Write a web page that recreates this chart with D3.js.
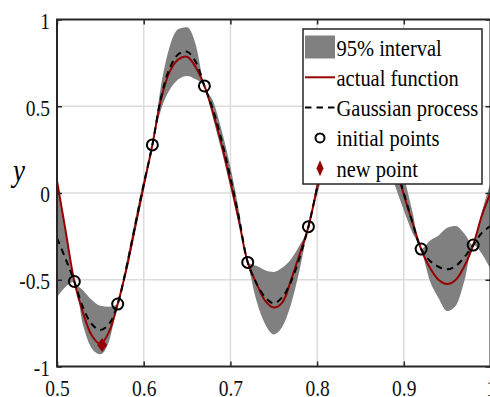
<!DOCTYPE html>
<html>
<head>
<meta charset="utf-8">
<script src="https://cdn.jsdelivr.net/npm/d3@7"></script>
</head>
<body style="margin:0">
<div class="chart"></div>
<script>
'use strict'
// sample grid and series
const xs = [0.50, 0.51, 0.52, 0.53, 0.54, 0.55, 0.56, 0.57, 0.58, 0.59,
  0.60, 0.61, 0.62, 0.63, 0.64, 0.65, 0.66, 0.67, 0.68, 0.69,
  0.70, 0.71, 0.72, 0.73, 0.74, 0.75, 0.76, 0.77, 0.78, 0.79,
  0.80, 0.81, 0.82, 0.83, 0.84, 0.85, 0.86, 0.87, 0.88, 0.89,
  0.90, 0.91, 0.92, 0.93, 0.94, 0.95, 0.96, 0.97, 0.98, 0.99, 1.00]
const actual = [0.07, -0.22, -0.51, -0.69, -0.82, -0.87, -0.80, -0.64, -0.44, -0.20,
  0.04, 0.277, 0.54, 0.70, 0.77, 0.785, 0.725, 0.617, 0.46, 0.275,
  0.065, -0.165, -0.40, -0.52, -0.62, -0.66, -0.63, -0.50, -0.35, -0.194,
  0.03, 0.25, 0.42, 0.54, 0.61, 0.62, 0.58, 0.48, 0.34, 0.17,
  -0.01, -0.17, -0.323, -0.43, -0.50, -0.525, -0.50, -0.42, -0.30, -0.13, 0.0]
const gpMean = [-0.26, -0.38, -0.51, -0.66, -0.755, -0.79, -0.755, -0.64, -0.43, -0.19,
  0.05, 0.277, 0.55, 0.72, 0.80, 0.815, 0.755, 0.617, 0.48, 0.30,
  0.09, -0.145, -0.40, -0.52, -0.60, -0.635, -0.60, -0.51, -0.37, -0.194,
  0.03, 0.24, 0.41, 0.53, 0.60, 0.62, 0.58, 0.48, 0.34, 0.17,
  0.0, -0.17, -0.323, -0.39, -0.425, -0.44, -0.42, -0.37, -0.30, -0.23, -0.19]
// half width of the 95% interval
const gpHalf = [0.34, 0.16, 0, 0.10, 0.14, 0.14, 0.10, 0, 0.03, 0.035,
  0.03, 0, 0.07, 0.125, 0.145, 0.14, 0.10, 0, 0.05, 0.06,
  0.06, 0.04, 0, 0.10, 0.155, 0.18, 0.17, 0.13, 0.07, 0,
  0.04, 0.08, 0.12, 0.15, 0.17, 0.18, 0.18, 0.17, 0.15, 0.13,
  0.10, 0.06, 0, 0.115, 0.18, 0.24, 0.23, 0.135, 0, 0.12, 0.25]
const initialX = [0.52, 0.57, 0.61, 0.67, 0.72, 0.79, 0.92, 0.98]
const initialY = [-0.51, -0.64, 0.277, 0.617, -0.40, -0.194, -0.323, -0.30]
const newX = [0.552]
const newY = [-0.876]
const xTicks = [0.5, 0.6, 0.7, 0.8, 0.9, 1]
const yTicks = [-1, -0.5, 0, 0.5, 1]
const legendLabels = ['95% interval', 'actual function', 'Gaussian process', 'initial points', 'new point']

const width = 490
const height = 397
const axisColor = '#262626'
const red = '#960000'
const band = '#808080'
const serif = '"Liberation Serif"'
const stretch = 1.15 // text in the picture is a bit taller than wide

const x = d3.scaleLinear().domain([0.5, 1]).range([57, 490.5])
const y = d3.scaleLinear().domain([-1, 1]).range([366.5, 19.5])

const fmt = function (d) { return d3.format('~g')(d).replace('\u2212', '-') }

const svg = d3.select('.chart').append('svg')
  .attr('width', width)
  .attr('height', height)
  .style('font-family', serif)

svg.append('defs').append('clipPath').attr('id', 'plot')
  .append('rect')
  .attr('x', x(0.5)).attr('y', y(1))
  .attr('width', x(1) - x(0.5)).attr('height', y(-1) - y(1))

// grid
const grid = svg.append('g').attr('stroke', '#dcdcdc').attr('stroke-width', 1.5)
grid.selectAll('.vx').data(xTicks.slice(1, -1)).enter().append('line')
  .attr('x1', function (d) { return x(d) }).attr('x2', function (d) { return x(d) })
  .attr('y1', y(1)).attr('y2', y(-1))
grid.selectAll('.hy').data(yTicks.slice(1, -1)).enter().append('line')
  .attr('y1', function (d) { return y(d) }).attr('y2', function (d) { return y(d) })
  .attr('x1', x(0.5)).attr('x2', x(1))

const plot = svg.append('g').attr('clip-path', 'url(#plot)')
const idx = d3.range(xs.length)

const area = d3.area()
  .x(function (i) { return x(xs[i]) })
  .y0(function (i) { return y(gpMean[i] - gpHalf[i]) })
  .y1(function (i) { return y(gpMean[i] + gpHalf[i]) })
  .curve(d3.curveMonotoneX)

plot.append('path').datum(idx)
  .attr('d', area)
  .attr('fill', band)

const lineOf = function (series) {
  return d3.line()
    .x(function (i) { return x(xs[i]) })
    .y(function (i) { return y(series[i]) })
    .curve(d3.curveCatmullRom.alpha(0.5))
}

plot.append('path').datum(idx)
  .attr('d', lineOf(actual))
  .attr('fill', 'none')
  .attr('stroke', red)
  .attr('stroke-width', 2)

plot.append('path').datum(idx)
  .attr('d', lineOf(gpMean))
  .attr('fill', 'none')
  .attr('stroke', '#000')
  .attr('stroke-width', 2)
  .attr('stroke-dasharray', '6.5,5')

plot.selectAll('.init').data(initialX).enter().append('circle')
  .attr('cx', function (d) { return x(d) })
  .attr('cy', function (d, i) { return y(initialY[i]) })
  .attr('r', 5.5)
  .attr('fill', 'none')
  .attr('stroke', '#000')
  .attr('stroke-width', 2)

const diamond = function (w, h) {
  return 'M0,' + (-h / 2) + 'L' + (w / 2) + ',0L0,' + (h / 2) + 'L' + (-w / 2) + ',0Z'
}

plot.selectAll('.new').data(newX).enter().append('path')
  .attr('transform', function (d, i) { return 'translate(' + x(d) + ',' + y(newY[i]) + ')' })
  .attr('d', diamond(10, 14))
  .attr('fill', red)

// axes: ticks point inward on all four sides
const styleAxis = function (g) {
  g.attr('font-family', null).attr('font-size', null)
  g.select('.domain').remove()
  g.selectAll('line').attr('stroke', axisColor).attr('stroke-width', 1.5)
  g.selectAll('text')
    .attr('fill', '#111')
    .style('font-family', serif)
    .style('font-size', '19.5px')
    .attr('transform', 'scale(1,' + stretch + ')')
}

svg.append('g').attr('transform', 'translate(0,' + y(-1) + ')')
  .call(d3.axisBottom(x).tickValues(xTicks).tickSize(-5).tickPadding(12).tickFormat(fmt))
  .call(styleAxis)

svg.append('g').attr('transform', 'translate(0,' + y(1) + ')')
  .call(d3.axisTop(x).tickValues(xTicks).tickSize(-5).tickFormat(''))
  .call(styleAxis)

svg.append('g').attr('transform', 'translate(' + x(0.5) + ',0)')
  .call(d3.axisLeft(y).tickValues(yTicks).tickSize(-5).tickPadding(7).tickFormat(fmt))
  .call(styleAxis)
  .call(function (g) { g.selectAll('text').attr('y', 1.5) })

svg.append('g').attr('transform', 'translate(' + x(1) + ',0)')
  .call(d3.axisRight(y).tickValues(yTicks).tickSize(-5).tickFormat(''))
  .call(styleAxis)

svg.append('rect')
  .attr('x', x(0.5)).attr('y', y(1))
  .attr('width', x(1) - x(0.5)).attr('height', y(-1) - y(1))
  .attr('fill', 'none')
  .attr('stroke', axisColor)
  .attr('stroke-width', 2)

svg.append('text')
  .attr('transform', 'translate(19,181) scale(1,' + stretch + ')')
  .attr('text-anchor', 'middle')
  .style('font-family', serif)
  .style('font-style', 'italic')
  .style('font-size', '27px')
  .text('y')

// legend
const legend = svg.append('g').attr('transform', 'translate(303,29)')
legend.append('rect')
  .attr('width', 179).attr('height', 155)
  .attr('fill', '#fff')
  .attr('stroke', axisColor)
  .attr('stroke-width', 1.5)

const rowY = function (i) { return 18 + i * 30.3 }

legend.append('rect')
  .attr('x', 2).attr('y', rowY(0) - 11.5)
  .attr('width', 30).attr('height', 23)
  .attr('fill', band)
legend.append('line')
  .attr('x1', 2).attr('x2', 32).attr('y1', rowY(1)).attr('y2', rowY(1))
  .attr('stroke', red).attr('stroke-width', 2)
legend.append('line')
  .attr('x1', 2).attr('x2', 32).attr('y1', rowY(2)).attr('y2', rowY(2))
  .attr('stroke', '#000').attr('stroke-width', 2)
  .attr('stroke-dasharray', '6.5,5')
legend.append('circle')
  .attr('cx', 17).attr('cy', rowY(3)).attr('r', 4.5)
  .attr('fill', 'none').attr('stroke', '#000').attr('stroke-width', 2)
legend.append('path')
  .attr('transform', 'translate(17,' + rowY(4) + ')')
  .attr('d', diamond(7, 16))
  .attr('fill', red)

legend.selectAll('.label').data(legendLabels).enter().append('text')
  .attr('transform', function (d, i) { return 'translate(33.5,' + (rowY(i) + 8.5) + ') scale(1,' + stretch + ')' })
  .style('font-family', serif)
  .style('font-size', '20.5px')
  .attr('fill', '#000')
  .text(function (d) { return d })
</script>
</body>
</html>
